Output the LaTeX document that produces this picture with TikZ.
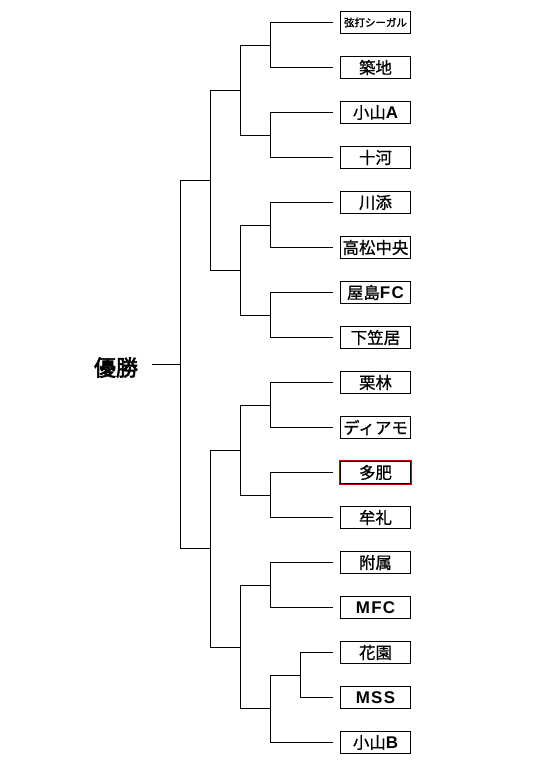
\documentclass[tikz,border=0pt]{standalone}
\usepackage{fontspec}
\newfontfamily\jp[FakeBold=0.8]{Noto Sans CJK JP}
\newfontfamily\jpb[FakeBold=3]{Noto Sans CJK JP}
\newfontfamily\jpm[FakeBold=1.8]{Noto Sans CJK JP}
\newfontfamily\lat[LetterSpace=8]{Liberation Sans}
\newcommand{\LB}[1]{{\lat\bfseries\fontsize{17}{17}\selectfont #1}}
\begin{document}
\begin{tikzpicture}[x=1bp,y=1bp,
  team/.style={draw=black,line width=1bp,minimum width=70bp,minimum height=22bp,
    inner sep=0pt,outer xsep=8bp,outer ysep=0pt,font=\jp\fontsize{16.5}{16.5}\selectfont},
  wire/.style={line width=1bp,black}]
\useasboundingbox (0,0) rectangle (534,-770);
\fill[white] (0,0) rectangle (534,-770);
% teams
\node[team,font=\jpm\fontsize{10.5}{10.5}\selectfont] (t1) at (375.5,-22.5) {弦打シーガル};
\node[team] (t2) at (375.5,-67.5) {築地};
\node[team] (t3) at (375.5,-112.5) {小山\LB{A}};
\node[team] (t4) at (375.5,-157.5) {十河};
\node[team] (t5) at (375.5,-202.5) {川添};
\node[team] (t6) at (375.5,-247.5) {高松中央};
\node[team] (t7) at (375.5,-292.5) {屋島\LB{FC}};
\node[team] (t8) at (375.5,-337.5) {下笠居};
\node[team] (t9) at (375.5,-382.5) {栗林};
\node[team] (t10) at (375.5,-427.5) {ディアモ};
\node[team] (t11) at (375.5,-472.5) {多肥};
\draw[red!80!black,line width=1bp] ([xshift=7bp,yshift=-1bp]t11.south west) rectangle ([xshift=-7bp,yshift=1bp]t11.north east);
\node[team] (t12) at (375.5,-517.5) {牟礼};
\node[team] (t13) at (375.5,-562.5) {附属};
\node[team] (t14) at (375.5,-607.5) {\LB{MFC}};
\node[team] (t15) at (375.5,-652.5) {花園};
\node[team] (t16) at (375.5,-697.5) {\LB{MSS}};
\node[team] (t17) at (375.5,-742.5) {小山\LB{B}};
% winner
\node[font=\jpb\fontsize{22}{22}\selectfont,inner sep=0pt,outer xsep=14bp] (w) at (116,-367.5) {優勝};
% junctions
\coordinate (a1) at (270.5,-45.5);
\coordinate (a2) at (270.5,-135.5);
\coordinate (a3) at (270.5,-225.5);
\coordinate (a4) at (270.5,-315.5);
\coordinate (a5) at (270.5,-405.5);
\coordinate (a6) at (270.5,-495.5);
\coordinate (a7) at (270.5,-585.5);
\coordinate (e) at (300.5,-675.5);
\coordinate (a8) at (270.5,-708.5);
\coordinate (b1) at (240.5,-90.5);
\coordinate (b2) at (240.5,-270.5);
\coordinate (b3) at (240.5,-450.5);
\coordinate (b4) at (240.5,-647.5);
\coordinate (c1) at (210.5,-180.5);
\coordinate (c2) at (210.5,-548.5);
\coordinate (d) at (180.5,-364.5);
% first round
\draw[wire] (t1.west) -| (a1) |- (t2.west);
\draw[wire] (t3.west) -| (a2) |- (t4.west);
\draw[wire] (t5.west) -| (a3) |- (t6.west);
\draw[wire] (t7.west) -| (a4) |- (t8.west);
\draw[wire] (t9.west) -| (a5) |- (t10.west);
\draw[wire] (t11.west) -| (a6) |- (t12.west);
\draw[wire] (t13.west) -| (a7) |- (t14.west);
\draw[wire] (t15.west) -| (e) |- (t16.west);
\draw[wire] (e) -| (a8) |- (t17.west);
% later rounds
\draw[wire] (a1) -| (b1) |- (a2);
\draw[wire] (a3) -| (b2) |- (a4);
\draw[wire] (a5) -| (b3) |- (a6);
\draw[wire] (a7) -| (b4) |- (a8);
\draw[wire] (b1) -| (c1) |- (b2);
\draw[wire] (b3) -| (c2) |- (b4);
\draw[wire] (c1) -| (d) |- (c2);
\draw[wire] (d) -- (d -| w.east);
\end{tikzpicture}
\end{document}
